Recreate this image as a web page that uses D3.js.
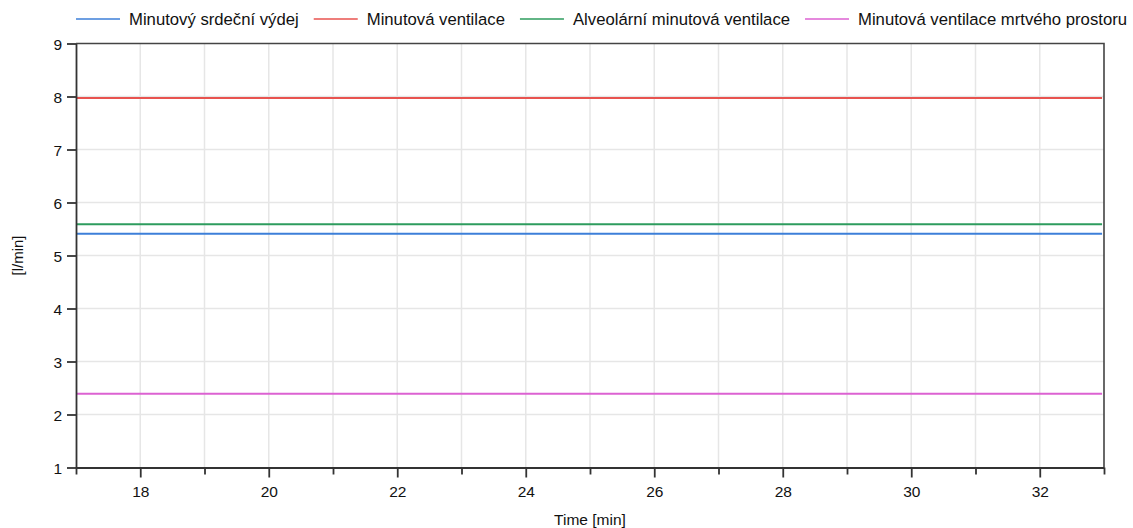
<!DOCTYPE html>
<html>
<head>
<meta charset="utf-8">
<script src="https://cdn.jsdelivr.net/npm/d3@7/dist/d3.min.js"></script>
<style>
  html, body { margin: 0; padding: 0; background: #fff; }
  svg { display: block; font-family: "Liberation Sans", Arial, sans-serif; }
</style>
</head>
<body>
<svg id="chart" width="1133" height="528"></svg>
<script>
// Time span of the simulation window (minutes)
const timeRange = [17, 33];
const xTicks = [17, 18, 19, 20, 21, 22, 23, 24, 25, 26, 27, 28, 29, 30, 31, 32, 33];
const xTickLabels = [18, 20, 22, 24, 26, 28, 30, 32];
const yRange = [1, 9];
const yTicks = [1, 2, 3, 4, 5, 6, 7, 8, 9];

// Series (steady state values, l/min)
const seriesNames = [
  "Minutový srdeční výdej",
  "Minutová ventilace",
  "Alveolární minutová ventilace",
  "Minutová ventilace mrtvého prostoru"
];
const seriesColors = ["#3d7fd9", "#e8534f", "#2e9c5e", "#dc62d2"];
const cardiacOutput = [[17, 5.41], [32.97, 5.41]];
const minuteVentilation = [[17, 7.97], [32.97, 7.97]];
const alveolarVentilation = [[17, 5.59], [32.97, 5.59]];
const deadSpaceVentilation = [[17, 2.39], [32.97, 2.39]];
const seriesData = [cardiacOutput, minuteVentilation, alveolarVentilation, deadSpaceVentilation];

const svg = d3.select("#chart");
const margin = { left: 76, right: 29, top: 43.5, bottom: 60.5 };
const W = 1133, H = 528;

const x = d3.scaleLinear().domain(timeRange).range([margin.left, W - margin.right]);
const y = d3.scaleLinear().domain(yRange).range([H - margin.bottom, margin.top]);

// grid
const grid = svg.append("g").attr("stroke", "#e6e6e6").attr("stroke-width", 1.5);
grid.selectAll("line.vx").data(xTicks.slice(1, -1)).join("line")
  .attr("x1", d => x(d)).attr("x2", d => x(d))
  .attr("y1", y(yRange[0])).attr("y2", y(yRange[1]));
grid.selectAll("line.hy").data(yTicks.slice(1, -1)).join("line")
  .attr("x1", x(timeRange[0])).attr("x2", x(timeRange[1]))
  .attr("y1", d => y(d)).attr("y2", d => y(d));

// series
const line = d3.line().x(d => x(d[0])).y(d => y(d[1]));
svg.append("g").selectAll("path").data(seriesData).join("path")
  .attr("d", line)
  .attr("fill", "none")
  .attr("stroke", (d, i) => seriesColors[i])
  .attr("stroke-width", 2);

// frame (top & right)
svg.append("path")
  .attr("d", `M${x(timeRange[0])},${y(yRange[1])}H${x(timeRange[1])}V${y(yRange[0])}`)
  .attr("fill", "none").attr("stroke", "#444").attr("stroke-width", 1.6);

// axes
const xAxis = d3.axisBottom(x).tickValues(xTicks)
  .tickFormat(d => xTickLabels.includes(d) ? d : "")
  .tickSizeOuter(0);
const gx = svg.append("g").attr("transform", `translate(0,${y(yRange[0])})`).call(xAxis);
gx.selectAll(".tick line").attr("y2", d => xTickLabels.includes(d) ? 10 : 7);
gx.selectAll(".tick text").attr("y", 29).attr("dy", null);

const yAxis = d3.axisLeft(y).tickValues(yTicks).tickSize(9).tickSizeOuter(0).tickPadding(5);
const gy = svg.append("g").attr("transform", `translate(${x(timeRange[0])},0)`).call(yAxis);
gy.selectAll(".tick text").attr("dy", "0.36em");

[gx, gy].forEach(g => {
  g.select(".domain").attr("stroke", "#333").attr("stroke-width", 1.8);
  g.selectAll(".tick line").attr("stroke", "#333").attr("stroke-width", 1.8);
  g.selectAll(".tick text").attr("fill", "#111").attr("font-size", 15.5)
    .attr("font-family", "Liberation Sans, Arial, sans-serif");
});

// axis titles
svg.append("text").attr("x", (x(timeRange[0]) + x(timeRange[1])) / 2).attr("y", 525)
  .attr("text-anchor", "middle").attr("font-size", 15.5).attr("fill", "#111").text("Time [min]");
svg.append("text").attr("transform", `translate(23,${(y(yRange[0]) + y(yRange[1])) / 2}) rotate(-90)`)
  .attr("text-anchor", "middle").attr("font-size", 15).attr("fill", "#111").text("[l/min]");

// legend
const legend = svg.append("g");
let lx = 76;
seriesNames.forEach((name, i) => {
  const g = legend.append("g");
  g.append("line").attr("x1", lx).attr("x2", lx + 44).attr("y1", 19).attr("y2", 19)
    .attr("stroke", seriesColors[i]).attr("stroke-width", 1.6);
  const t = g.append("text").attr("x", lx + 53).attr("y", 25).attr("font-size", 16.7)
    .attr("fill", "#111").text(name);
  lx += 53 + t.node().getComputedTextLength() + 15;
});
</script>
</body>
</html>
